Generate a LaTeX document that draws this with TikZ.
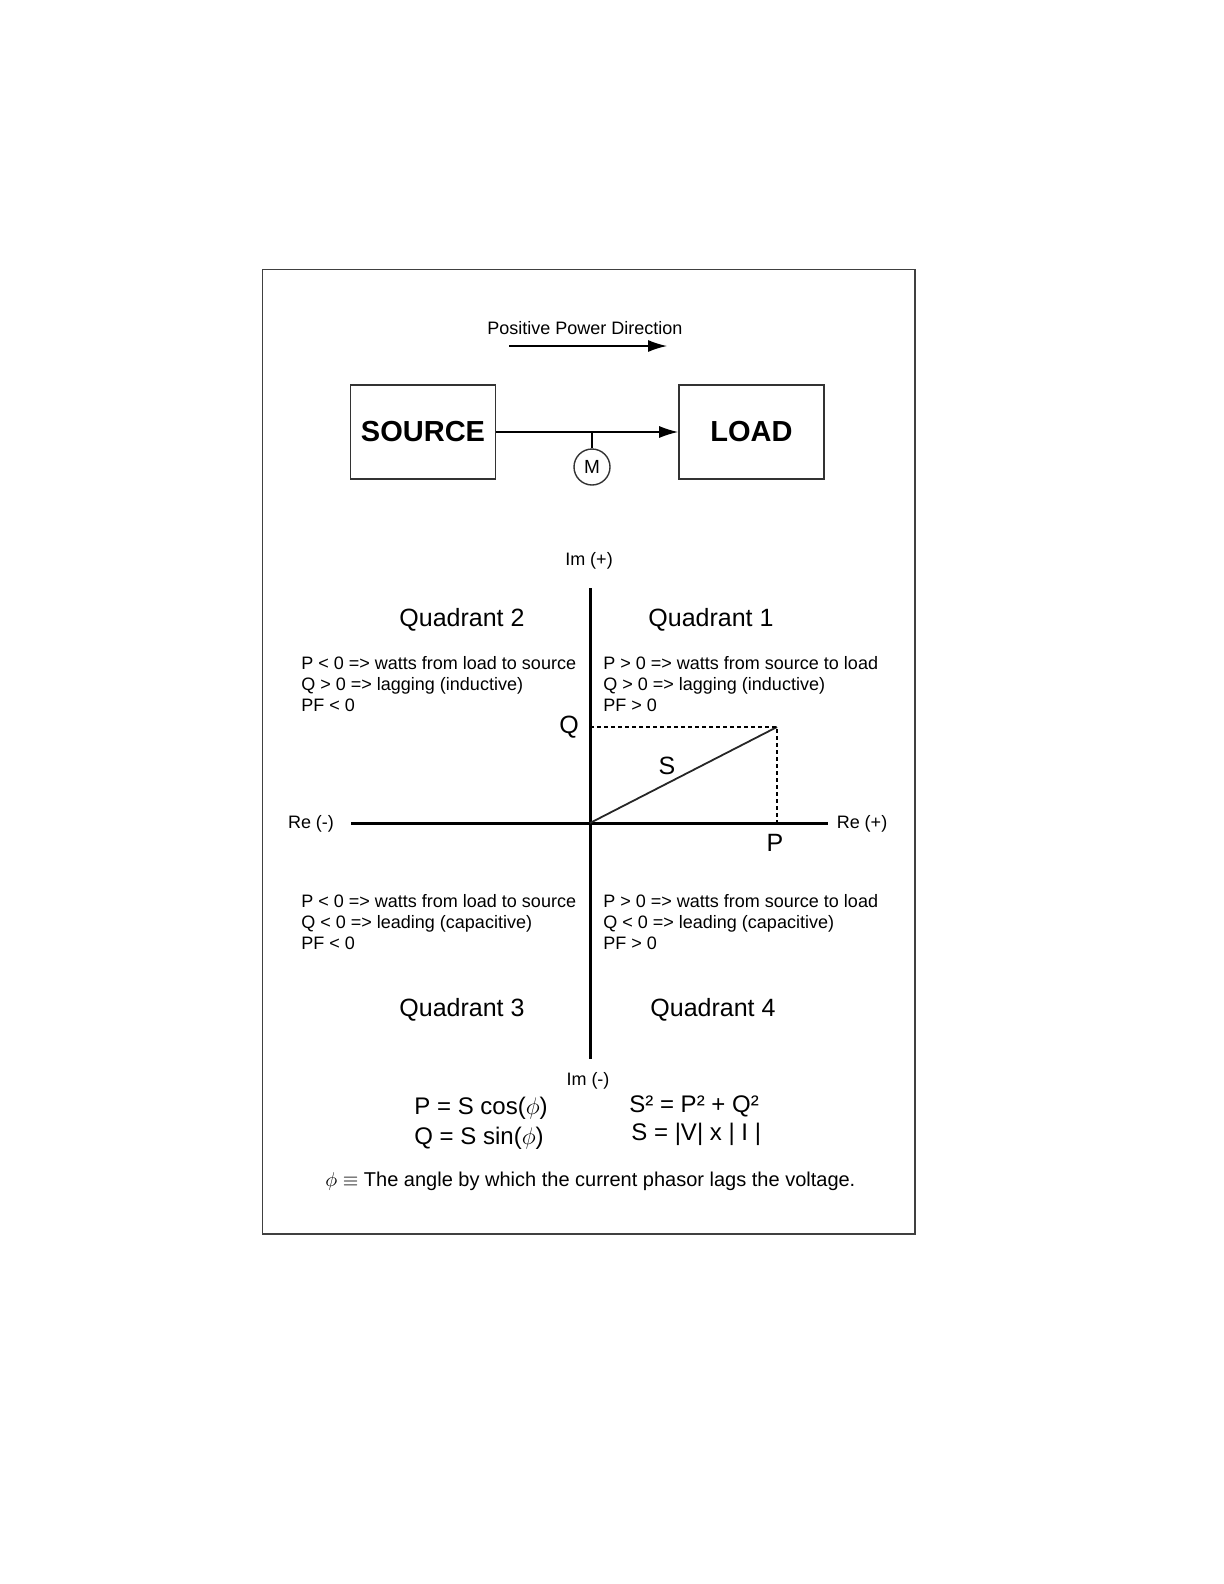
\documentclass[tikz,border=0pt]{standalone}
\usepackage{fontspec}
\setmainfont{Liberation Sans}
\usetikzlibrary{arrows.meta}
\begin{document}
\begin{tikzpicture}[x=0.5pt,y=-0.5pt,
  box/.style={draw=black!80,line width=0.8pt,minimum width=72.5pt,minimum height=47pt,inner sep=0pt,font=\fontsize{14.5}{16}\selectfont\bfseries},
  arr/.style={line width=0.7pt,-{Latex[length=9.5pt,width=6pt]}},
  axis/.style={line width=1.5pt,black},
  small/.style={font=\fontsize{9}{10.5}\selectfont,inner sep=0pt},
  quad/.style={font=\fontsize{12.5}{14}\selectfont,inner sep=0pt},
  block/.style={font=\fontsize{9}{10.4}\selectfont,inner sep=0pt,anchor=north west,align=left},
  formula/.style={font=\fontsize{12}{14}\selectfont,inner sep=0pt,anchor=west},
  dashedline/.style={line width=0.6pt,dash pattern=on 2pt off 1.5pt},
]
\useasboundingbox (0,0) rectangle (1224,1584);
% frame
\draw[line width=0.9pt,black!75] (262.5,269.5) rectangle (915,1234);

% top block diagram
\node[small] (ppd) at (585,328) {Positive Power Direction};
\coordinate (ppa) at (509,346);
\coordinate (ppb) at (667,346);
\draw[arr] (ppa) -- (ppb);

\node[box] (src) at (423,432) {SOURCE};
\node[box] (load) at (751.5,432) {LOAD};
\draw[arr] (src.east) -- (load.west);
\node[circle,draw=black!80,line width=0.7pt,minimum size=18pt,inner sep=0pt,font=\fontsize{9.5}{11}\selectfont] (m) at (592,467) {M};
\draw[line width=0.7pt] (m.north) -- (m.north |- src.east);

% axes
\coordinate (imtop) at (590,588);
\coordinate (imbot) at (590,1059);
\coordinate (reneg) at (351,823);
\coordinate (repos) at (828,823);
\coordinate (o) at (590,823);
\draw[axis] (imtop) -- (imbot);
\draw[axis] (reneg) -- (repos);

\node[small] (implus) at (589,561) {Im (+)};
\node[small] (imminus) at (588,1081) {Im (-)};
\node[small] (reminus) at (311,824) {Re (-)};
\node[small] (replus) at (862,824) {Re (+)};

\node[quad] (q2) at (462,620) {Quadrant 2};
\node[quad] (q1) at (711,620) {Quadrant 1};
\node[quad] (q3) at (462,1010) {Quadrant 3};
\node[quad] (q4) at (713,1010) {Quadrant 4};

\node[block] (t2) at (301,656) {P < 0 => watts from load to source\\Q > 0 => lagging (inductive)\\PF < 0};
\node[block] (t1) at (603,656) {P > 0 => watts from source to load\\Q > 0 => lagging (inductive)\\PF > 0};
\node[block] (t3) at (301,894) {P < 0 => watts from load to source\\Q < 0 => leading (capacitive)\\PF < 0};
\node[block] (t4) at (603,894) {P > 0 => watts from source to load\\Q < 0 => leading (capacitive)\\PF > 0};

% phasor
\coordinate (sp) at (777,727);
\coordinate (qpt) at (590,727);
\coordinate (ppt) at (777,823);
\draw[line width=0.9pt,black!85] (o) -- (sp);
\draw[dashedline] (qpt) -- (sp) -- (ppt);
\node[quad] (ql) at (569,727) {Q};
\node[quad] (pl) at (775,843) {P};
\node[quad] (sl) at (667,766) {S};

% formulas
\node[formula] (f1) at (414,1108) {P = S cos($\phi$)};
\node[formula] (f2) at (414,1138) {Q = S sin($\phi$)};
\node[formula] (f3) at (629,1106) {S² = P² + Q²};
\node[formula] (f4) at (631,1134) {S = |V| x | I |};
\node[font=\fontsize{10}{11}\selectfont,inner sep=0pt,anchor=west] (def) at (325,1181) {$\phi\equiv$ The angle by which the current phasor lags the voltage.};
\end{tikzpicture}
\end{document}
